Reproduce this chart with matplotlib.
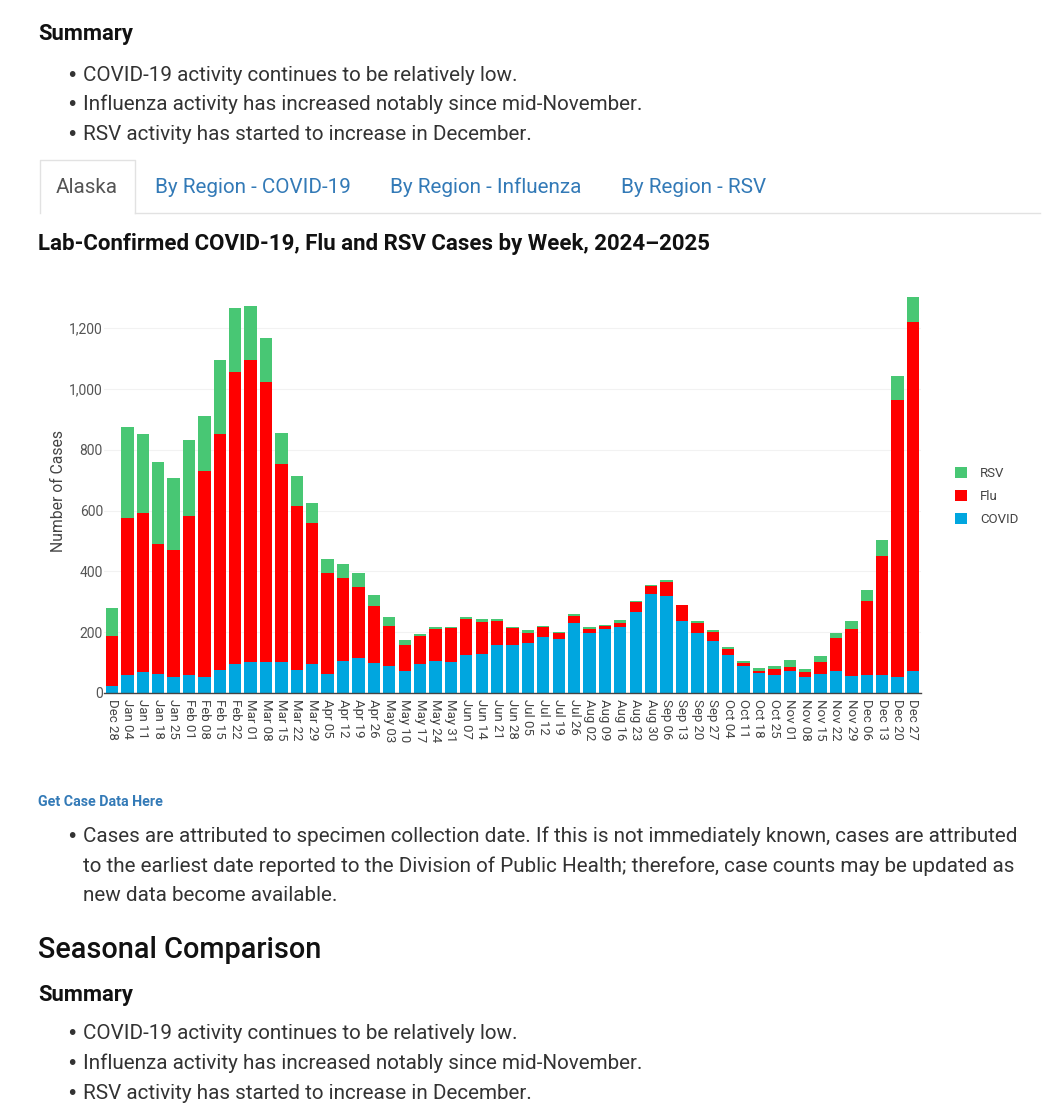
import matplotlib.pyplot as plt
from matplotlib.lines import Line2D

plt.rcParams['font.family'] = ['Roboto', 'DejaVu Sans']

# weekly data
weeks = ['Dec 28', 'Jan 04', 'Jan 11', 'Jan 18', 'Jan 25', 'Feb 01', 'Feb 08', 'Feb 15', 'Feb 22',
         'Mar 01', 'Mar 08', 'Mar 15', 'Mar 22', 'Mar 29', 'Apr 05', 'Apr 12', 'Apr 19', 'Apr 26',
         'May 03', 'May 10', 'May 17', 'May 24', 'May 31', 'Jun 07', 'Jun 14', 'Jun 21', 'Jun 28',
         'Jul 05', 'Jul 12', 'Jul 19', 'Jul 26', 'Aug 02', 'Aug 09', 'Aug 16', 'Aug 23', 'Aug 30',
         'Sep 06', 'Sep 13', 'Sep 20', 'Sep 27', 'Oct 04', 'Oct 11', 'Oct 18', 'Oct 25',
         'Nov 01', 'Nov 08', 'Nov 15', 'Nov 22', 'Nov 29', 'Dec 06', 'Dec 13', 'Dec 20', 'Dec 27']

covid = [23, 59, 69, 62, 53, 59, 53, 77, 95, 102, 102, 102, 76, 95, 62, 105, 116, 99,
         89, 72, 95, 105, 102, 125, 128, 158, 158, 164, 184, 178, 230, 197, 210, 217, 266, 324,
         319, 237, 197, 171, 125, 88, 65, 58, 71, 53, 61, 72, 55, 58, 58, 53, 72]
flu = [164, 518, 522, 428, 417, 523, 677, 775, 960, 993, 920, 652, 539, 465, 331, 272, 232, 187,
       131, 86, 93, 105, 112, 118, 105, 79, 56, 33, 33, 19, 23, 13, 9, 13, 32, 28,
       45, 52, 32, 31, 21, 12, 7, 21, 14, 16, 41, 108, 154, 244, 392, 909, 1148]
rsv = [91, 298, 259, 268, 236, 249, 180, 242, 210, 177, 144, 100, 98, 64, 47, 47, 47, 36,
       30, 16, 5, 6, 2, 7, 9, 6, 3, 10, 3, 3, 7, 7, 4, 10, 3, 2,
       6, 1, 7, 5, 5, 5, 10, 10, 23, 10, 20, 17, 28, 37, 52, 80, 82]

summary_points = ['COVID-19 activity continues to be relatively low.',
                  'Influenza activity has increased notably since mid-November.',
                  'RSV activity has started to increase in December.']
note_lines = ['Cases are attributed to specimen collection date. If this is not immediately known, cases are attributed',
              'to the earliest date reported to the Division of Public Health; therefore, case counts may be updated as',
              'new data become available.']
tabs = ['Alaska', 'By Region - COVID-19', 'By Region - Influenza', 'By Region - RSV']
tab_x = [56, 155, 390, 621]

W, H = 1046, 1117
fig = plt.figure(figsize=(W / 100, H / 100), dpi=100)
fig.patch.set_facecolor('white')


def fx(px):
    return px / W


def fy(py):
    return 1 - py / H


def txt(x, y, s, **kw):
    fig.text(fx(x), fy(y), s, va='baseline', **kw)


def bullet(y):
    fig.text(fx(66), fy(y), '\u2022', va='baseline', fontsize=14,
             family='DejaVu Sans', color='#333333')


# top summary
txt(38, 40, 'Summary', fontsize=15.8, fontweight='bold', color='#111111')
for i, s in enumerate(summary_points):
    y = 81 + i * 29.5
    bullet(y)
    txt(83, y, s, fontsize=14.9, color='#333333')

# tabs
fig.add_artist(Line2D([fx(135), fx(1040)], [fy(213), fy(213)], color='#e2e2e2', lw=1))
fig.add_artist(Line2D([fx(40), fx(40), fx(135), fx(135)], [fy(213), fy(160), fy(160), fy(213)],
                      color='#e2e2e2', lw=1))
for i, t in enumerate(tabs):
    txt(tab_x[i], 193, t, fontsize=14.9, color='#555555' if i == 0 else '#337ab7')

txt(38, 250, 'Lab-Confirmed COVID-19, Flu and RSV Cases by Week, 2024\u20132025',
    fontsize=16, fontweight='bold', color='#111111')

# chart
ax = fig.add_axes([fx(104.3), fy(693), fx(920.7) - fx(104.3), fy(290) - fy(693)])
x = list(range(len(weeks)))
flu_bottom = covid
rsv_bottom = [c + f for c, f in zip(covid, flu)]
b1 = ax.bar(x, covid, width=0.8, color='#00a6df', label='COVID', zorder=2)
b2 = ax.bar(x, flu, width=0.8, bottom=flu_bottom, color='#ff0000', label='Flu', zorder=2)
b3 = ax.bar(x, rsv, width=0.8, bottom=rsv_bottom, color='#48c774', label='RSV', zorder=2)

ax.set_xlim(-0.5, len(weeks) - 0.5)
ax.set_ylim(0, 1325)
ax.set_yticks([0, 200, 400, 600, 800, 1000, 1200])
ax.set_yticklabels(['0', '200', '400', '600', '800', '1,000', '1,200'])
ax.set_xticks(x)
ax.set_xticklabels(weeks, rotation=270, fontsize=9.5, color='#444444')
ax.tick_params(axis='y', length=0, pad=1, labelsize=10, labelcolor='#555555')
ax.tick_params(axis='x', length=0, pad=4)
ax.grid(axis='y', color='#f2f2f2', lw=0.8, zorder=0)
for side in ['top', 'right', 'left']:
    ax.spines[side].set_visible(False)
ax.spines['bottom'].set_color('#444444')
ax.spines['bottom'].set_linewidth(1)
ax.set_ylabel('Number of Cases', fontsize=11.3, color='#444444', labelpad=2)

fig.legend([b3, b2, b1], ['RSV', 'Flu', 'COVID'], loc='upper left',
           bbox_to_anchor=(fx(943), fy(455)), frameon=False, fontsize=9.5,
           handlelength=0.9, handleheight=0.9, handletextpad=1.0, labelspacing=0.75,
           labelcolor='#444444')

# below the chart
txt(38, 806, 'Get Case Data Here', fontsize=10.3, fontweight='bold', color='#337ab7')
for i, s in enumerate(note_lines):
    y = 842 + i * 29.5
    if i == 0:
        bullet(y)
    txt(83, y, s, fontsize=14.9, color='#333333')

txt(38, 958, 'Seasonal Comparison', fontsize=20.8, fontweight='medium', color='#111111')
txt(38, 1001, 'Summary', fontsize=15.8, fontweight='bold', color='#111111')
for i, s in enumerate(summary_points):
    y = 1039 + i * 30
    bullet(y)
    txt(83, y, s, fontsize=14.9, color='#333333')

fig.savefig('out.png', dpi=100, facecolor='white')
